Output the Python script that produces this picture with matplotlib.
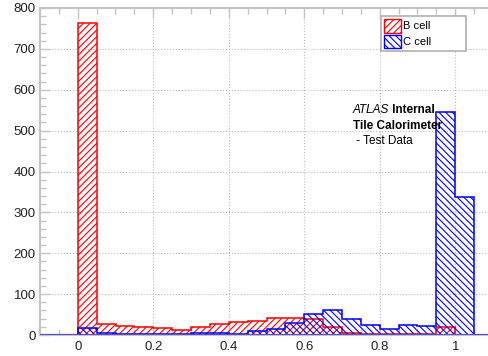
import numpy as np
import matplotlib
matplotlib.use("Agg")
import matplotlib.pyplot as plt
from matplotlib.ticker import MultipleLocator
from matplotlib.patches import Patch

plt.rcParams['font.family'] = ['Liberation Sans', 'DejaVu Sans']
plt.rcParams['hatch.linewidth'] = 0.8

# bin edges 0 .. 1.05, width 0.05
bin_edges = [0.0, 0.05, 0.10, 0.15, 0.20, 0.25, 0.30, 0.35, 0.40, 0.45, 0.50,
             0.55, 0.60, 0.65, 0.70, 0.75, 0.80, 0.85, 0.90, 0.95, 1.00, 1.05]

b_cell = [763, 27, 22, 20, 18, 12, 19, 27, 31, 35, 42,
          42, 38, 20, 6, 3, 2, 3, 3, 19, 0]
c_cell = [18, 4, 3, 3, 3, 3, 6, 5, 3, 9, 14,
          29, 52, 61, 38, 24, 15, 24, 21, 545, 338]

fig = plt.figure(figsize=(4.89, 3.56), dpi=100)
ax = fig.add_axes([40 / 489, 21 / 356, 453 / 489, 327 / 356])

grey = '#c4c4c4'

ax.stairs(b_cell, bin_edges, fill=True, facecolor='none', edgecolor='red',
          hatch='/////', linewidth=1.1, zorder=3)
ax.stairs(c_cell, bin_edges, fill=True, facecolor='none', edgecolor='blue',
          hatch='\\\\\\\\\\', linewidth=1.1, zorder=4)
ax.axhline(0, color='#5b4fc8', linewidth=1.6, zorder=5)

ax.set_xlim(-0.1, 1.1)
ax.set_ylim(0, 800)
ax.xaxis.set_minor_locator(MultipleLocator(0.05))
ax.yaxis.set_major_locator(MultipleLocator(100))
ax.yaxis.set_minor_locator(MultipleLocator(20))
ax.set_xticks([0, 0.2, 0.4, 0.6, 0.8, 1.0])
ax.set_xticklabels(['0', '0.2', '0.4', '0.6', '0.8', '1'])

ax.grid(True, which='major', linestyle=':', color='#bbbbbb', linewidth=0.8)
ax.set_axisbelow(True)
ax.tick_params(which='both', direction='in', color=grey, labelsize=9.5,
               labelcolor='#222222', top=True, right=False)
ax.tick_params(which='major', length=7, width=1)
ax.tick_params(which='minor', length=4, width=1)
ax.tick_params(axis='x', pad=4)
ax.tick_params(axis='y', pad=3)
for s in ['left', 'top', 'bottom']:
    ax.spines[s].set_color(grey)
    ax.spines[s].set_linewidth(1.5)
ax.spines['right'].set_visible(False)

handles = [Patch(facecolor='none', edgecolor='red', hatch='/////', label='B cell'),
           Patch(facecolor='none', edgecolor='blue', hatch='\\\\\\\\\\', label='C cell')]
leg = ax.legend(handles=handles, loc='upper left',
                bbox_to_anchor=(0.753, 0.862, 0.187, 0.113), mode='expand',
                fontsize=8, frameon=True, fancybox=False, framealpha=1,
                edgecolor='#b0b0b0', handlelength=1.5, handleheight=1.5,
                handletextpad=0.2, borderpad=0.25, labelspacing=0.2,
                borderaxespad=0)
leg.get_frame().set_linewidth(1.2)

t1 = ax.text(0.690, 0.680, 'ATLAS', style='italic', fontsize=8.5,
             transform=ax.transAxes, va='baseline', zorder=6)
ax.annotate(' Internal', xy=(1, 0), xycoords=t1, va='bottom', fontsize=8.5,
            fontweight='bold', zorder=6)
ax.text(0.690, 0.631, 'Tile Calorimeter', fontweight='bold', fontsize=8.5,
        transform=ax.transAxes, va='baseline', zorder=6)
ax.text(0.690, 0.584, ' - Test Data', fontsize=8.5,
        transform=ax.transAxes, va='baseline', zorder=6)

fig.savefig('out.png', dpi=100)
